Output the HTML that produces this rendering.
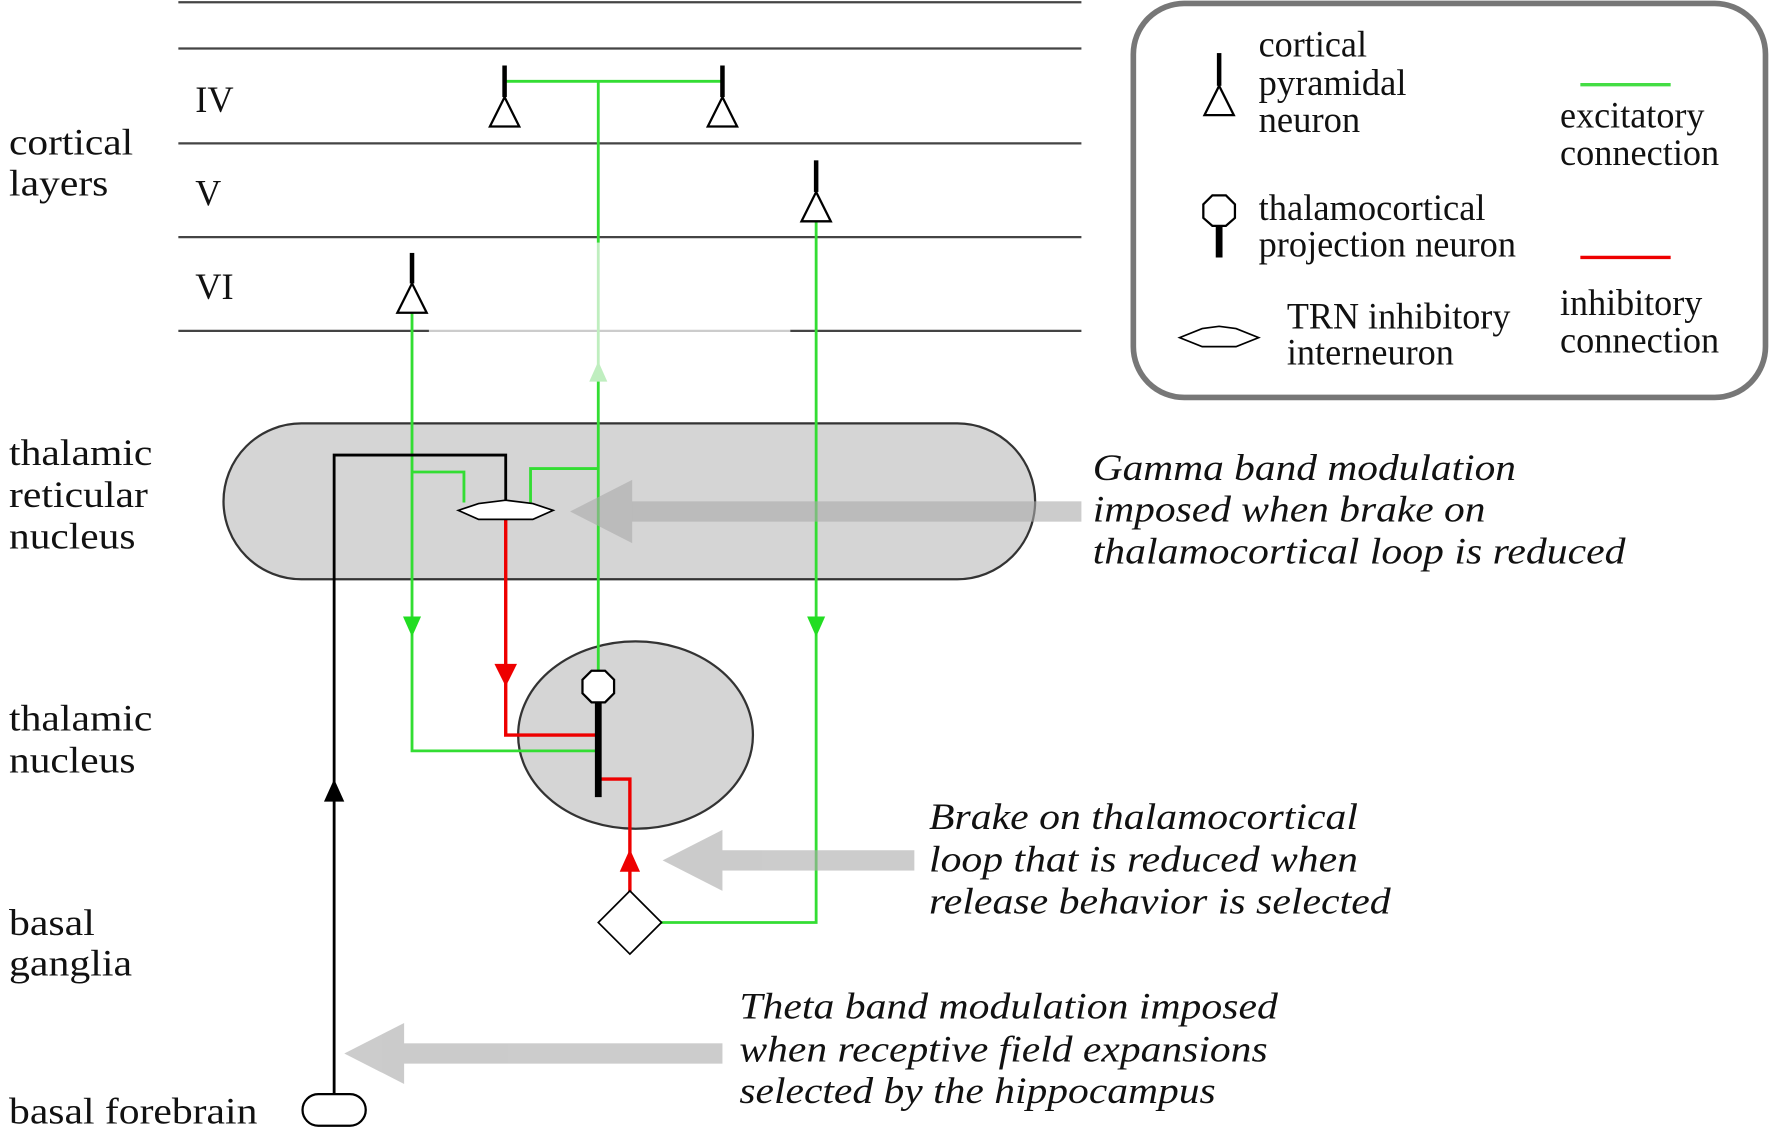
<!DOCTYPE html>
<html><head><meta charset="utf-8"><style>html,body{margin:0;padding:0;background:#fff}svg{display:block}text{font-family:"Liberation Serif",serif;font-size:33px;fill:#111}.i{font-style:italic;font-size:33px}</style></head>
<body>
<svg width="1770" height="1128" viewBox="0 0 1568 999" preserveAspectRatio="none" xmlns="http://www.w3.org/2000/svg">
<g stroke="#444" stroke-width="2">
<line x1="158" y1="2" x2="958" y2="2"/><line x1="158" y1="43" x2="958" y2="43"/>
<line x1="158" y1="127" x2="958" y2="127"/><line x1="158" y1="210" x2="958" y2="210"/>
<line x1="158" y1="293" x2="380" y2="293"/><line x1="700" y1="293" x2="958" y2="293"/>
</g>
<line x1="380" y1="293" x2="700" y2="293" stroke="#ccc" stroke-width="2"/>
<g lengthAdjust="spacingAndGlyphs">
<text x="173" y="99" textLength="34" lengthAdjust="spacingAndGlyphs">IV</text><text x="173" y="182" textLength="23" lengthAdjust="spacingAndGlyphs">V</text><text x="173" y="265" textLength="34" lengthAdjust="spacingAndGlyphs">VI</text>
<text x="8" y="137" textLength="110" lengthAdjust="spacingAndGlyphs">cortical</text><text x="8" y="173" textLength="88" lengthAdjust="spacingAndGlyphs">layers</text>
<text x="8" y="412" textLength="127" lengthAdjust="spacingAndGlyphs">thalamic</text><text x="8" y="449" textLength="123" lengthAdjust="spacingAndGlyphs">reticular</text><text x="8" y="486" textLength="112" lengthAdjust="spacingAndGlyphs">nucleus</text>
<text x="8" y="647" textLength="127" lengthAdjust="spacingAndGlyphs">thalamic</text><text x="8" y="684" textLength="112" lengthAdjust="spacingAndGlyphs">nucleus</text>
<text x="8" y="828" textLength="76" lengthAdjust="spacingAndGlyphs">basal</text><text x="8" y="864" textLength="109" lengthAdjust="spacingAndGlyphs">ganglia</text>
<text x="8" y="995" textLength="220" lengthAdjust="spacingAndGlyphs">basal forebrain</text>
</g>
<rect x="198" y="375" width="719" height="138" rx="69" fill="#d5d5d5" stroke="#333" stroke-width="2"/>
<ellipse cx="563" cy="651" rx="104" ry="83" fill="#d5d5d5" stroke="#333" stroke-width="2"/>
<g stroke="#33dd33" stroke-width="2.5" fill="none">
<polyline points="447,72 640,72"/>
<line x1="530" y1="72" x2="530" y2="215"/>
<line x1="530" y1="330" x2="530" y2="595"/>
<polyline points="365,277 365,665 528,665"/>
<polyline points="723,197 723,817 585,817"/>
<polyline points="365,418 411,418 411,445"/>
<polyline points="530,415 470,415 470,445"/>
</g>
<line x1="530" y1="215" x2="530" y2="330" stroke="#bfeebf" stroke-width="2.5"/>
<polygon points="522,338 538,338 530,320" fill="#bfeebf"/>
<g fill="#22dd22"><polygon points="357,546 373,546 365,564"/><polygon points="715,546 731,546 723,564"/></g>
<g stroke="#000" fill="#fff" stroke-width="2">
<line x1="447" y1="58" x2="447" y2="86" stroke-width="4"/><polygon points="447,86 434,112 460,112"/>
<line x1="640" y1="58" x2="640" y2="86" stroke-width="4"/><polygon points="640,86 627,112 653,112"/>
<line x1="723" y1="142" x2="723" y2="170" stroke-width="4"/><polygon points="723,170 710,196 736,196"/>
<line x1="365" y1="224" x2="365" y2="251" stroke-width="4"/><polygon points="365,251 352,277 378,277"/>
</g>
<polyline points="296,970 296,403 448,403 448,445" fill="none" stroke="#000" stroke-width="2.5"/>
<polygon points="287,710 305,710 296,690" fill="#000"/>
<rect x="268" y="969" width="56" height="28" rx="14" fill="#fff" stroke="#000" stroke-width="2"/>
<g stroke="#e00" stroke-width="3" fill="none">
<polyline points="448,460 448,651 528,651"/>
<polyline points="530,690 558,690 558,790"/>
</g>
<polygon points="438,588 458,588 448,608" fill="#e00"/>
<polygon points="549,772 567,772 558,752" fill="#e00"/>
<polygon points="406,452 424,446 448,443 472,446 490,452 472,460 424,460" fill="#fff" stroke="#000" stroke-width="1.5"/>
<line x1="530" y1="620" x2="530" y2="706" stroke="#000" stroke-width="6"/>
<polygon points="524,594 536,594 544,602 544,614 536,622 524,622 516,614 516,602" fill="#fff" stroke="#000" stroke-width="2"/>
<polygon points="558,789 586,817 558,845 530,817" fill="#fff" stroke="#000" stroke-width="1.5"/>
<g fill="#aaa" opacity="0.6">
<rect x="545" y="444" width="413" height="18"/><polygon points="505,453 560,425 560,481"/>
<rect x="625" y="753" width="185" height="18"/><polygon points="587,762 640,735 640,789"/>
<rect x="345" y="924" width="295" height="18"/><polygon points="305,933 358,906 358,960"/>
</g>
<text class="i" x="968" y="425" textLength="375" lengthAdjust="spacingAndGlyphs">Gamma band modulation</text>
<text class="i" x="968" y="462" textLength="348" lengthAdjust="spacingAndGlyphs">imposed when brake on</text>
<text class="i" x="968" y="499" textLength="472" lengthAdjust="spacingAndGlyphs">thalamocortical loop is reduced</text>
<text class="i" x="823" y="734" textLength="380" lengthAdjust="spacingAndGlyphs">Brake on thalamocortical</text>
<text class="i" x="823" y="772" textLength="380" lengthAdjust="spacingAndGlyphs">loop that is reduced when</text>
<text class="i" x="823" y="809" textLength="409" lengthAdjust="spacingAndGlyphs">release behavior is selected</text>
<text class="i" x="655" y="902" textLength="477" lengthAdjust="spacingAndGlyphs">Theta band modulation imposed</text>
<text class="i" x="655" y="940" textLength="468" lengthAdjust="spacingAndGlyphs">when receptive field expansions</text>
<text class="i" x="655" y="977" textLength="422" lengthAdjust="spacingAndGlyphs">selected by the hippocampus</text>
<rect x="1004" y="3" width="560" height="349" rx="45" fill="#fff" stroke="#777" stroke-width="5"/>
<g stroke="#000" fill="#fff" stroke-width="2">
<line x1="1080" y1="47" x2="1080" y2="76" stroke-width="4"/><polygon points="1080,76 1067,102 1093,102"/>
<line x1="1080" y1="198" x2="1080" y2="228" stroke-width="6"/>
<polygon points="1074,173 1086,173 1094,181 1094,193 1086,200 1074,200 1066,193 1066,181"/>
<polygon points="1045,299 1065,291 1080,289 1095,291 1115,299 1095,307 1065,307" stroke-width="1.5"/>
</g>
<line x1="1400" y1="75" x2="1480" y2="75" stroke="#44dd44" stroke-width="3"/>
<line x1="1400" y1="228" x2="1480" y2="228" stroke="#e00" stroke-width="3"/>
<text x="1115" y="50" textLength="96" lengthAdjust="spacingAndGlyphs">cortical</text><text x="1115" y="84" textLength="131" lengthAdjust="spacingAndGlyphs">pyramidal</text><text x="1115" y="117" textLength="90" lengthAdjust="spacingAndGlyphs">neuron</text>
<text x="1382" y="113" textLength="128" lengthAdjust="spacingAndGlyphs">excitatory</text><text x="1382" y="146" textLength="141" lengthAdjust="spacingAndGlyphs">connection</text>
<text x="1115" y="195" textLength="201" lengthAdjust="spacingAndGlyphs">thalamocortical</text><text x="1115" y="227" textLength="228" lengthAdjust="spacingAndGlyphs">projection neuron</text>
<text x="1140" y="291" textLength="198" lengthAdjust="spacingAndGlyphs">TRN inhibitory</text><text x="1140" y="323" textLength="148" lengthAdjust="spacingAndGlyphs">interneuron</text>
<text x="1382" y="279" textLength="126" lengthAdjust="spacingAndGlyphs">inhibitory</text><text x="1382" y="312" textLength="141" lengthAdjust="spacingAndGlyphs">connection</text>
</svg>
</body></html>
